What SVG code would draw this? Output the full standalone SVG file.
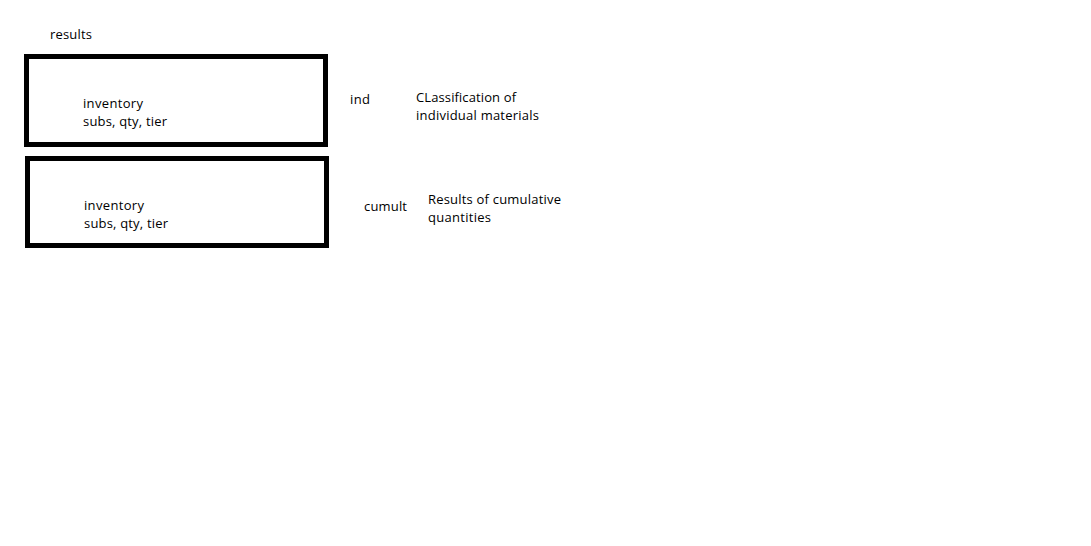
<svg xmlns="http://www.w3.org/2000/svg" width="1091" height="546" viewBox="0 0 1091 546">
<style>
text{font-family:"Open Sans","Noto Sans","Liberation Sans",sans-serif;font-size:13px;fill:#000}
.box{fill:#fff;stroke:#000;stroke-width:5}
</style>
<rect x="0" y="0" width="1091" height="546" fill="#fff"/>
<text x="50" y="39" textLength="42">results</text>
<g id="node-ind">
<rect class="box" x="26.5" y="56.5" width="299" height="88"/>
<text x="83" y="108" textLength="60">inventory</text>
<text x="83" y="126" textLength="84">subs, qty, tier</text>
</g>
<g id="node-cumult">
<rect class="box" x="27.5" y="158.5" width="299" height="87"/>
<text x="84" y="210" textLength="60">inventory</text>
<text x="84" y="228" textLength="84">subs, qty, tier</text>
</g>
<g id="connectors"></g>
<g id="labels">
<text x="350" y="104" textLength="20">ind</text>
<text x="416" y="102" textLength="100">CLassification of</text>
<text x="416" y="120" textLength="123">individual materials</text>
<text x="364" y="211" textLength="43">cumult</text>
<text x="428" y="204" textLength="133">Results of cumulative</text>
<text x="428" y="222" textLength="63">quantities</text>
</g>
</svg>
